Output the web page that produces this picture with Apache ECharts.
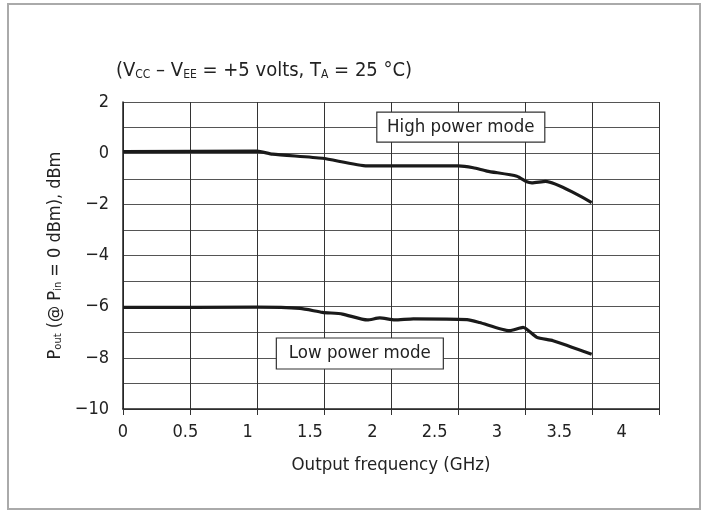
<!DOCTYPE html>
<html><head><meta charset="utf-8">
<script src="https://cdn.jsdelivr.net/npm/echarts@6/dist/echarts.min.js"></script>
<style>html,body{margin:0;padding:0;background:#fff}#c{width:707px;height:514px}</style>
</head><body><div id="c"></div>
<script>
// Frequency (GHz) as read against the printed tick labels
var highFreq = [0, 1.075, 1.20, 1.60, 1.96, 2.69, 2.81, 2.92, 3.16, 3.24, 3.28, 3.39, 3.76];
var highPout = [0.06, 0.08, -0.04, -0.2, -0.5, -0.5, -0.57, -0.7, -0.9, -1.12, -1.16, -1.1, -1.93];
var lowFreq = [0, 1.075, 1.42, 1.60, 1.76, 1.96, 2.06, 2.18, 2.33, 2.76, 2.86, 3.10, 3.21, 3.32, 3.45, 3.76];
var lowPout = [-6.03, -6.02, -6.07, -6.22, -6.29, -6.52, -6.44, -6.52, -6.48, -6.51, -6.62, -6.94, -6.81, -7.2, -7.33, -7.86];
var xTickLabels = ['0', '0.5', '1', '1.5', '2', '2.5', '3', '3.5', '4'];
var yTickLabels = ['2', '0', '−2', '−4', '−6', '−8', '−10'];
var seriesNames = ['High power mode', 'Low power mode'];

var FONT = "'DejaVu Sans Condensed', Roboto, sans-serif";
function zip(a, b) { return a.map(function (v, i) { return [v, b[i]]; }); }

var chart = echarts.init(document.getElementById('c'));
chart.setOption({
  animation: false,
  backgroundColor: '#fff',
  title: {
    text: '{t|(V}{s|CC}{t| – V}{s|EE}{t| = +5 volts, T}{s|A}{t| = 25 °C)}',
    left: 111, top: 50,
    textStyle: {
      fontWeight: 'normal',
      rich: {
        t: { fontSize: 20, fontWeight: 'normal', fontFamily: FONT, color: '#222', verticalAlign: 'bottom', lineHeight: 26 },
        s: { fontSize: 12, fontWeight: 'normal', fontFamily: FONT, color: '#222', verticalAlign: 'bottom', lineHeight: 14, padding: [12, 0, 0, 0] }
      }
    }
  },
  grid: { left: 123, right: 48, top: 102, bottom: 105, containLabel: false },
  xAxis: [
    {
      type: 'value', min: 0, max: 4.3, interval: 0.5,
      axisLine: { show: false }, axisTick: { show: false }, splitLine: { show: false },
      axisLabel: {
        color: '#222', fontSize: 18, fontFamily: FONT, margin: 14, showMaxLabel: false,
        formatter: function (v) { var i = Math.round(v / 0.5); return xTickLabels[i] !== undefined && Math.abs(v - i * 0.5) < 1e-6 ? xTickLabels[i] : ''; }
      },
      name: 'Output frequency (GHz)', nameLocation: 'middle', nameGap: 47,
      nameTextStyle: { color: '#222', fontSize: 18.5, fontFamily: FONT }
    },
    {
      type: 'value', min: 0, max: 8, interval: 1, position: 'bottom',
      axisLine: { show: true, onZero: false, lineStyle: { color: '#222', width: 1.5 } },
      axisTick: { show: true, inside: false, length: 6, lineStyle: { color: '#333', width: 1 } },
      axisLabel: { show: false },
      splitLine: { show: true, lineStyle: { color: '#333', width: 1 } }
    }
  ],
  yAxis: {
    type: 'value', min: -10, max: 2, interval: 1,
    axisLine: { show: true, lineStyle: { color: '#222', width: 1.5 } },
    axisTick: { show: false },
    splitLine: { show: true, lineStyle: { color: '#555', width: 1 } },
    axisLabel: {
      color: '#222', fontSize: 18, fontFamily: FONT, margin: 14, padding: [6, 0, 0, 0],
      formatter: function (v) { if (v % 2 !== 0) return ''; return yTickLabels[(2 - v) / 2]; }
    },
    name: '{t|P}{s|out}{t| (@ P}{s|in}{t| = 0 dBm), dBm}',
    nameLocation: 'middle', nameGap: 58, nameRotate: 90,
    nameTextStyle: {
      rich: {
        t: { fontSize: 18, fontFamily: FONT, color: '#222', verticalAlign: 'bottom', lineHeight: 22 },
        s: { fontSize: 11, fontFamily: FONT, color: '#222', verticalAlign: 'bottom', lineHeight: 12, padding: [10, 0, 0, 0] }
      }
    }
  },
  series: [
    { name: seriesNames[0], type: 'line', xAxisIndex: 0, data: zip(highFreq, highPout), showSymbol: false, smooth: 0.2,
      lineStyle: { color: '#1a1a1a', width: 3.2 } },
    { name: seriesNames[1], type: 'line', xAxisIndex: 0, data: zip(lowFreq, lowPout), showSymbol: false, smooth: 0.2,
      lineStyle: { color: '#1a1a1a', width: 3.2 } }
  ]
});

function box(label, x, y, w, h) {
  var p = chart.convertToPixel({ xAxisIndex: 0, yAxisIndex: 0 }, [x, y]);
  return {
    type: 'group', z: 100,
    children: [
      { type: 'rect', shape: { x: p[0] - w / 2, y: p[1] - h / 2, width: w, height: h },
        style: { fill: '#fff', stroke: '#333', lineWidth: 1.2 } },
      { type: 'text', x: p[0], y: p[1],
        style: { text: label, fill: '#222', fontSize: 18.5, fontFamily: FONT, align: 'center', verticalAlign: 'middle' } }
    ]
  };
}
chart.setOption({
  graphic: [
    { type: 'rect', z: -1, silent: true, shape: { x: 8, y: 4, width: 692, height: 505 },
      style: { fill: 'none', stroke: '#aaa', lineWidth: 2 } },
    box(seriesNames[0], 2.71, 1.02, 168, 30),
    box(seriesNames[1], 1.90, -7.83, 167, 31)
  ]
});
</script></body></html>
